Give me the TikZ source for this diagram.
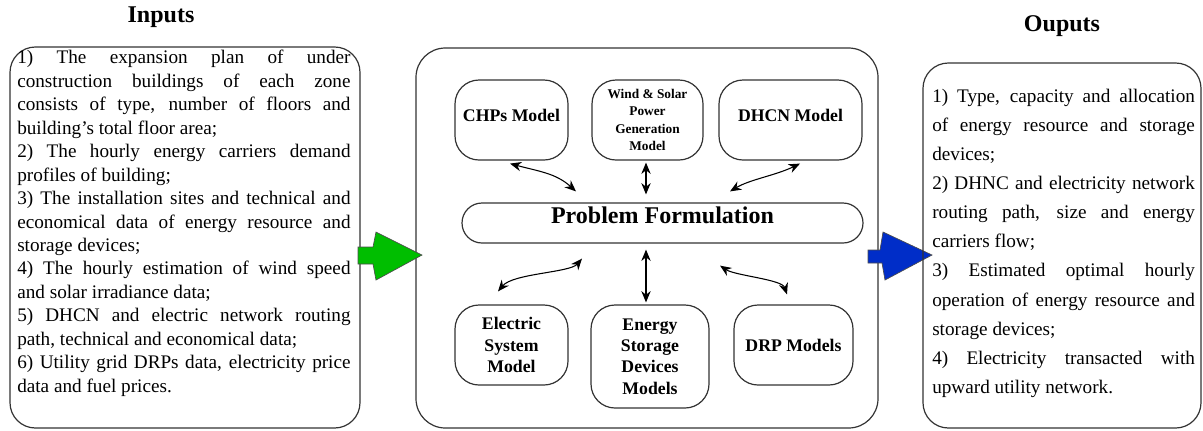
\documentclass[tikz,border=0pt]{standalone}
\usepackage{fontspec}
\setmainfont{Liberation Serif}
\usetikzlibrary{arrows.meta}
\definecolor{arrowgreen}{RGB}{0,190,0}
\definecolor{arrowblue}{RGB}{0,45,200}
\tikzset{
	panel/.style={draw=black!80, line width=0.9pt, rounded corners=19pt},
	model/.style={draw=black!80, line width=0.9pt, rounded corners=18pt, align=center, inner sep=1pt, font=\bfseries\fontsize{13.3}{16}\selectfont},
	link/.style={{Stealth[length=8.5pt,width=7pt]}-{Stealth[length=8.5pt,width=7pt]}, line width=0.8pt},
	heading/.style={font=\bfseries\fontsize{18}{20}\selectfont},
	body/.style={anchor=north west, inner sep=0pt, align=justify},
	bigarrow/.style={draw=black!70, line width=0.5pt}
}
\begin{document}
\begin{tikzpicture}[x=0.75pt, y=-0.75pt]
	\useasboundingbox (0,0) rectangle (1203,430);
	\node[heading] (intitle) at (161,17) {Inputs};
	\draw[panel] (10,47) rectangle (360,428);
	\node[body, text width=250pt, font=\fontsize{14.4}{17.6}\selectfont] (intext) at (17,50) {\noindent
		1) The expansion plan of under\linebreak
		construction buildings of each zone\linebreak
		consists of type, number of floors and\linebreak
		building's total floor area;\\
		2) The hourly energy carriers demand\linebreak
		profiles of building;\\
		3) The installation sites and technical and\linebreak
		economical data of energy resource and\linebreak
		storage devices;\\
		4) The hourly estimation of wind speed\linebreak
		and solar irradiance data;\\
		5) DHCN and electric network routing\linebreak
		path, technical and economical data;\\
		6) Utility grid DRPs data, electricity price\linebreak
		data and fuel prices.};
	\draw[panel, rounded corners=22pt] (416,48) rectangle (878,428);
	\node[model, minimum width=84.75pt, minimum height=60pt, text depth=7pt] (chp) at (511.5,120) {CHPs Model};
	\node[model, minimum width=83.25pt, minimum height=60pt, font=\bfseries\fontsize{10}{13}\selectfont] (wind) at (647.5,120) {Wind \& Solar\\Power\\Generation\\Model};
	\node[model, minimum width=107.25pt, minimum height=60pt, text depth=7pt] (dhcn) at (790.5,120) {DHCN Model};
	\node[model, minimum width=300.75pt, minimum height=30pt, rounded corners=15pt, text height=13pt, text depth=13pt, font=\bfseries\fontsize{18}{20}\selectfont] (pf) at (662.5,223) {Problem Formulation};
	\node[model, minimum width=84.75pt, minimum height=60pt] (elec) at (511.5,345) {Electric\\System\\Model};
	\node[model, minimum width=88.5pt, minimum height=77.25pt] (ess) at (650,356.5) {Energy\\Storage\\Devices\\Models};
	\node[model, minimum width=89.25pt, minimum height=60pt] (drp) at (793.5,345) {DRP Models};
	\draw[link] ([shift={(-1.5,3)}]chp.south) .. controls +(30,8) and +(-20,-18) .. ([shift={(-86.5,-11)}]pf.north);
	\draw[link] ([shift={(-1.5,2)}]wind.south) -- ([shift={(-16.5,-8)}]pf.north);
	\draw[link] ([shift={(9.5,3)}]dhcn.south) .. controls +(-25,12) and +(20,-12) .. ([shift={(67.5,-11)}]pf.north);
	\draw[link] ([shift={(-80.5,15)}]pf.south) .. controls +(-12,14) and +(15,-18) .. ([shift={(-13.5,-13)}]elec.north);
	\draw[link] ([shift={(-16.5,6)}]pf.south) -- ([shift={(-4,-2)}]ess.north);
	\draw[link] ([shift={(57.5,22)}]pf.south) .. controls +(15,10) and +(-5,-15) .. ([shift={(-6.5,-10)}]drp.north);
	\draw[bigarrow, fill=arrowgreen] (358,247) -- (373,247) -- (376,232) -- (422,255) -- (376,280) -- (373,264) -- (358,264) -- cycle;
	\draw[bigarrow, fill=arrowblue] (868,250) -- (880,250) -- (883,232) -- (932,255) -- (885,280) -- (882,263) -- (868,263) -- cycle;
	\node[heading] (outtitle) at (1062,26) {Ouputs};
	\draw[panel] (923,63) rectangle (1201,428);
	\node[body, text width=197pt, font=\fontsize{14.4}{21.8}\selectfont] (outtext) at (932,89) {\noindent
		1) Type, capacity and allocation\linebreak
		of energy resource and storage\linebreak
		devices;\\
		2) DHNC and electricity network\linebreak
		routing path, size and energy\linebreak
		carriers flow;\\
		3) Estimated optimal hourly\linebreak
		operation of energy resource and\linebreak
		storage devices;\\
		4) Electricity transacted with\linebreak
		upward utility network.};
\end{tikzpicture}
\end{document}
